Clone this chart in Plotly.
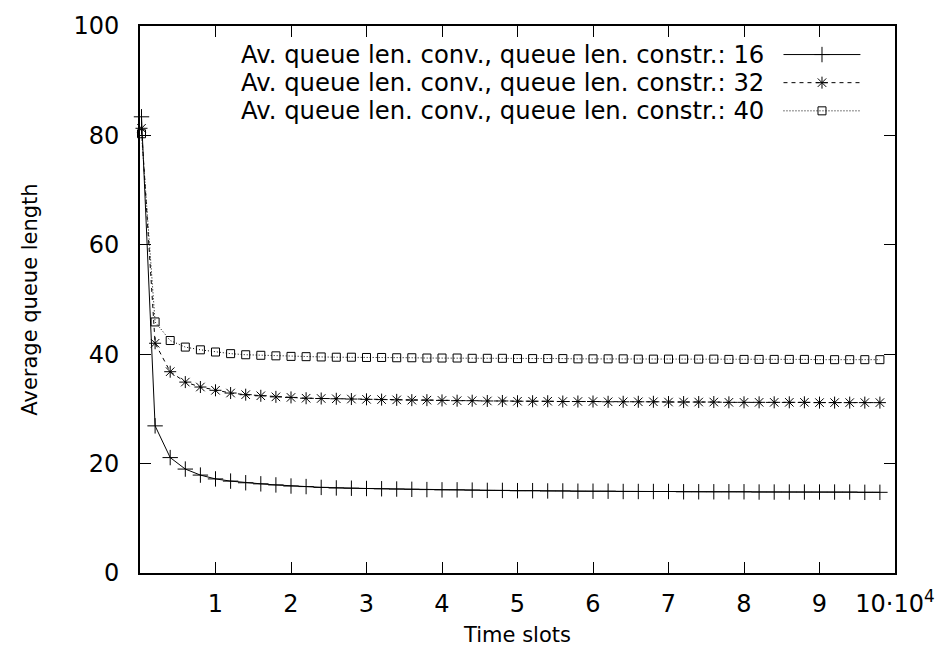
import plotly.graph_objects as go

# ---- data ----
time_slots = [200, 2000, 4000, 6000, 8000, 10000, 12000, 14000, 16000, 18000,
              20000, 22000, 24000, 26000, 28000, 30000, 32000, 34000, 36000, 38000,
              40000, 42000, 44000, 46000, 48000, 50000, 52000, 54000, 56000, 58000,
              60000, 62000, 64000, 66000, 68000, 70000, 72000, 74000, 76000, 78000,
              80000, 82000, 84000, 86000, 88000, 90000, 92000, 94000, 96000, 98000]

qlen_16 = [83.4, 26.9, 21.1, 19.0, 17.9, 17.2, 16.8, 16.5, 16.3, 16.1,
           15.9, 15.8, 15.65, 15.55, 15.5, 15.45, 15.4, 15.35, 15.3, 15.25,
           15.2, 15.2, 15.15, 15.1, 15.1, 15.05, 15.05, 15.0, 15.0, 14.95,
           14.95, 14.95, 14.9, 14.9, 14.9, 14.9, 14.85, 14.85, 14.85, 14.85,
           14.85, 14.8, 14.8, 14.8, 14.8, 14.8, 14.8, 14.8, 14.75, 14.75]

qlen_32 = [81.3, 42.0, 36.8, 34.9, 34.0, 33.4, 32.9, 32.6, 32.4, 32.2,
           32.1, 31.95, 31.9, 31.85, 31.8, 31.75, 31.7, 31.65, 31.6, 31.6,
           31.55, 31.5, 31.5, 31.45, 31.45, 31.4, 31.4, 31.4, 31.35, 31.35,
           31.35, 31.3, 31.3, 31.3, 31.3, 31.25, 31.25, 31.25, 31.25, 31.2,
           31.2, 31.2, 31.2, 31.2, 31.2, 31.15, 31.15, 31.15, 31.15, 31.15]

qlen_40 = [80.3, 45.9, 42.5, 41.3, 40.8, 40.4, 40.1, 39.9, 39.8, 39.7,
           39.6, 39.55, 39.5, 39.45, 39.45, 39.4, 39.4, 39.35, 39.35, 39.3,
           39.3, 39.3, 39.25, 39.25, 39.25, 39.2, 39.2, 39.2, 39.2, 39.15,
           39.15, 39.15, 39.15, 39.1, 39.1, 39.1, 39.1, 39.1, 39.1, 39.05,
           39.05, 39.05, 39.05, 39.05, 39.05, 39.0, 39.0, 39.0, 39.0, 39.0]

series_names = ["Av. queue len. conv., queue len. constr.: 16",
                "Av. queue len. conv., queue len. constr.: 32",
                "Av. queue len. conv., queue len. constr.: 40"]

x_tick_vals = [10000, 20000, 30000, 40000, 50000, 60000, 70000, 80000, 90000, 100000]
x_tick_text = ["1", "2", "3", "4", "5", "6", "7", "8", "9", "10·10<sup>4</sup>"]
y_tick_vals = [0, 20, 40, 60, 80, 100]
y_tick_text = ["0", "20", "40", "60", "80", "100"]

# ---- styles ----
FONT = "DejaVu Sans"
styles = [
    dict(dash="solid", symbol="cross-thin-open", size=11),
    dict(dash="4px,4px", symbol="asterisk-open", size=10),
    dict(dash="1px,2px", symbol="square-open", size=8),
]
series = [qlen_16, qlen_32, qlen_40]

fig = go.Figure()
for name, ys, st in zip(series_names, series, styles):
    fig.add_trace(go.Scatter(
        x=time_slots, y=ys, name=name, mode="lines+markers",
        line=dict(color="black", width=1, dash=st["dash"]),
        marker=dict(symbol=st["symbol"], size=st["size"], color="black",
                    line=dict(color="black", width=1)),
        showlegend=False, cliponaxis=False,
    ))

# ---- custom gnuplot-style legend (text right-aligned, sample to its right) ----
row_y = [0.9478, 0.8964, 0.8449]
text_x = 0.829
line_x0, line_x1 = 0.8523, 0.9542
mark_x = 0.9033
for name, st, yy in zip(series_names, styles, row_y):
    fig.add_annotation(x=text_x, y=yy, xref="paper", yref="paper",
                       text=name, showarrow=False, xanchor="right",
                       yanchor="middle", font=dict(family=FONT, size=24.3, color="black"))
    fig.add_shape(type="line", xref="paper", yref="paper",
                  x0=line_x0, x1=line_x1, y0=yy, y1=yy,
                  line=dict(color="black", width=1, dash=st["dash"]))
    fig.add_trace(go.Scatter(
        x=[mark_x], y=[yy], xaxis="x2", yaxis="y2", mode="markers",
        marker=dict(symbol=st["symbol"], size=st["size"], color="black",
                    line=dict(color="black", width=1)),
        showlegend=False, hoverinfo="skip",
    ))

axis_common = dict(
    showline=True, linecolor="black", linewidth=2, mirror="ticks",
    ticks="inside", ticklen=11, tickwidth=1.3, tickcolor="black",
    showgrid=False, zeroline=False,
    tickfont=dict(family=FONT, size=24, color="black"),
)

fig.update_layout(
    width=947, height=659,
    margin=dict(l=140, r=42, t=23, b=86),
    paper_bgcolor="white", plot_bgcolor="white",
    font=dict(family=FONT, color="black"),
    xaxis=dict(range=[0, 100000], tickvals=x_tick_vals, ticktext=x_tick_text,
               ticklabelstandoff=8,
               title=dict(text="Time slots", font=dict(family=FONT, size=21), standoff=11),
               **axis_common),
    yaxis=dict(range=[0, 100], tickvals=y_tick_vals, ticktext=y_tick_text,
               ticklabelstandoff=14,
               title=dict(text="Average queue length", font=dict(family=FONT, size=21), standoff=30),
               **axis_common),
    xaxis2=dict(range=[0, 1], overlaying="x", showline=False, showgrid=False,
                zeroline=False, showticklabels=False, ticks="", fixedrange=True),
    yaxis2=dict(range=[0, 1], overlaying="y", showline=False, showgrid=False,
                zeroline=False, showticklabels=False, ticks="", fixedrange=True),
)

fig.write_html("out.html")
